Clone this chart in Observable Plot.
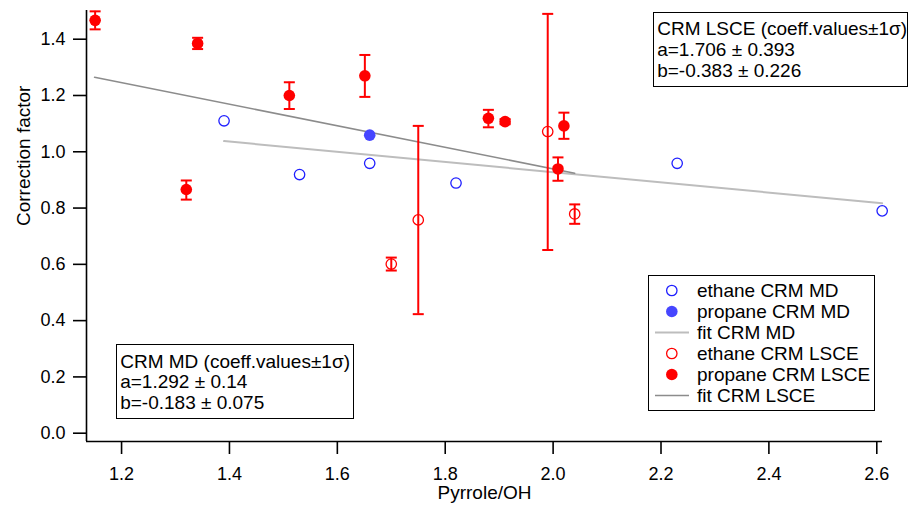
<!DOCTYPE html>
<html>
<head>
<meta charset="utf-8">
<script src="https://cdn.jsdelivr.net/npm/d3@7"></script>
<script src="https://cdn.jsdelivr.net/npm/@observablehq/plot@0.6"></script>
<style>
  body { margin: 0; background: #fff; }
  #wrap { position: relative; width: 909px; height: 507px; }
  .box { position: absolute; background: #fff; border: 1.5px solid #000; box-sizing: border-box;
         font: 19px "Liberation Sans", Arial, sans-serif; color: #000; white-space: nowrap; }
  .row { display: flex; align-items: center; height: 21px; line-height: 21px; }
  .row svg { flex: none; margin-right: 8px; }
</style>
</head>
<body>
<div id="wrap"></div>
<script>
// ---- data ----
const ethaneMD_x = [1.39, 1.53, 1.66, 1.82, 2.23, 2.61];
const ethaneMD_y = [1.110, 0.919, 0.959, 0.889, 0.959, 0.790];

const propaneMD_x = [1.66];
const propaneMD_y = [1.059];

const fitMD_x = [1.39, 2.61];
const fitMD_y = [1.038, 0.817];

const ethaneLSCE_x  = [1.70, 1.75, 1.99, 2.04];
const ethaneLSCE_y  = [0.601, 0.758, 1.072, 0.779];
const ethaneLSCE_lo = [0.578, 0.423, 0.651, 0.744];
const ethaneLSCE_hi = [0.624, 1.092, 1.490, 0.813];

const propaneLSCE_x  = [1.151, 1.32, 1.341, 1.511, 1.651, 1.88, 1.911, 2.009, 2.02];
const propaneLSCE_y  = [1.467, 0.866, 1.385, 1.200, 1.270, 1.119, 1.107, 0.939, 1.092];
const propaneLSCE_lo = [1.435, 0.830, 1.365, 1.152, 1.195, 1.087, 1.098, 0.897, 1.046];
const propaneLSCE_hi = [1.499, 0.898, 1.405, 1.247, 1.344, 1.149, 1.116, 0.980, 1.139];

const fitLSCE_x = [1.15, 2.04];
const fitLSCE_y = [1.265, 0.924];

const xTicks = [1.2, 1.4, 1.6, 1.8, 2.0, 2.2, 2.4, 2.6];
const yTicks = [0.0, 0.2, 0.4, 0.6, 0.8, 1.0, 1.2, 1.4];
const xDomain = [1.135, 2.6106];
const yDomain = [-0.0295, 1.502];

const xLabel = "Pyrrole/OH";
const yLabel = "Correction factor";

const legendItems = [
  {label: "ethane CRM MD", kind: "open", color: "#1f1fff"},
  {label: "propane CRM MD", kind: "filled", color: "#4646ff"},
  {label: "fit CRM MD", kind: "line", color: "#bdbdbd"},
  {label: "ethane CRM LSCE", kind: "open", color: "#ff0000"},
  {label: "propane CRM LSCE", kind: "filled", color: "#ff0000"},
  {label: "fit CRM LSCE", kind: "line", color: "#8c8c8c"}
];
const boxLSCE = ["CRM LSCE (coeff.values\u00b11\u03c3)", "a=1.706 \u00b1 0.393", "b=-0.383 \u00b1 0.226"];
const boxMD = ["CRM MD (coeff.values\u00b11\u03c3)", "a=1.292 \u00b1 0.14", "b=-0.183 \u00b1 0.075"];

// ---- tables ----
const zip = (xs, ys) => xs.map((x, i) => ({x, y: ys[i]}));
const zipErr = (xs, ys, lo, hi) => xs.map((x, i) => ({x, y: ys[i], lo: lo[i], hi: hi[i]}));
const eMD = zip(ethaneMD_x, ethaneMD_y);
const pMD = zip(propaneMD_x, propaneMD_y);
const fMD = zip(fitMD_x, fitMD_y);
const fLS = zip(fitLSCE_x, fitLSCE_y);
const eLS = zipErr(ethaneLSCE_x, ethaneLSCE_y, ethaneLSCE_lo, ethaneLSCE_hi);
const pLS = zipErr(propaneLSCE_x, propaneLSCE_y, propaneLSCE_lo, propaneLSCE_hi);
const allLS = eLS.concat(pLS);

const capSymbol = {
  draw(context, size) {
    const w = Math.sqrt(size / Math.PI);
    context.moveTo(-w, 0);
    context.lineTo(w, 0);
  }
};

const red = "#ff0000";

const chart = Plot.plot({
  width: 909, height: 507,
  marginLeft: 86, marginRight: 27, marginTop: 10, marginBottom: 66,
  style: {fontFamily: '"Liberation Sans", Arial, sans-serif', fontSize: "18px", color: "#000", background: "#fff", overflow: "visible"},
  x: {domain: xDomain},
  y: {domain: yDomain},
  marks: [
    Plot.ruleY([yDomain[0]], {stroke: "#000", strokeWidth: 1.6}),
    Plot.ruleX([xDomain[0]], {stroke: "#000", strokeWidth: 1.6}),
    Plot.axisX({ticks: xTicks, tickSize: 13, tickPadding: 13, tickFormat: d3.format(".1f"), label: null, strokeWidth: 1.6, fontSize: 18}),
    Plot.axisY({ticks: yTicks, tickSize: 13, tickPadding: 8, tickFormat: d3.format(".1f"), label: null, strokeWidth: 1.6, fontSize: 18}),
    Plot.text([xLabel], {frameAnchor: "bottom", dy: 57.9, text: d => d, fontSize: 19}),
    Plot.text([yLabel], {frameAnchor: "left", rotate: -90, dx: -62.6, text: d => d, fontSize: 19}),
    Plot.line(fMD, {x: "x", y: "y", stroke: "#bdbdbd", strokeWidth: 2}),
    Plot.line(fLS, {x: "x", y: "y", stroke: "#8c8c8c", strokeWidth: 1.6}),
    Plot.ruleX(allLS, {x: "x", y1: "lo", y2: "hi", stroke: red, strokeWidth: 2}),
    Plot.dot(allLS, {x: "x", y: "lo", symbol: capSymbol, r: 5.5, stroke: red, strokeWidth: 2, fill: "none"}),
    Plot.dot(allLS, {x: "x", y: "hi", symbol: capSymbol, r: 5.5, stroke: red, strokeWidth: 2, fill: "none"}),
    Plot.dot(eMD, {x: "x", y: "y", r: 5.2, stroke: "#1f1fff", strokeWidth: 1.3, fill: "none"}),
    Plot.dot(pMD, {x: "x", y: "y", r: 5.8, fill: "#4646ff", stroke: "none"}),
    Plot.dot(eLS, {x: "x", y: "y", r: 5.2, stroke: red, strokeWidth: 1.3, fill: "none"}),
    Plot.dot(pLS, {x: "x", y: "y", r: 5.8, fill: red, stroke: "none"})
  ]
});

const wrap = document.getElementById("wrap");
wrap.appendChild(chart);

function textBox(lines, left, top, width, height, padTop, padLeft, lh) {
  const div = document.createElement("div");
  div.className = "box";
  Object.assign(div.style, {left: left + "px", top: top + "px", width: width + "px", height: height + "px",
    paddingTop: padTop + "px", paddingLeft: padLeft + "px", lineHeight: lh + "px"});
  for (const l of lines) {
    const d = document.createElement("div");
    d.textContent = l;
    div.appendChild(d);
  }
  wrap.appendChild(div);
}
textBox(boxLSCE, 652.7, 11.7, 255.5, 75, 5.7, 3.5, 21);
textBox(boxMD, 115.7, 344.3, 238.6, 74.7, 6.4, 3.5, 20.5);

// legend
const leg = document.createElement("div");
leg.className = "box";
Object.assign(leg.style, {left: "647.7px", top: "275px", width: "227.3px", height: "136px", paddingTop: "3.6px", paddingLeft: "6.3px"});
const NS = "http://www.w3.org/2000/svg";
for (const it of legendItems) {
  const row = document.createElement("div");
  row.className = "row";
  const s = document.createElementNS(NS, "svg");
  s.setAttribute("width", 34); s.setAttribute("height", 21);
  let el;
  if (it.kind === "line") {
    el = document.createElementNS(NS, "line");
    el.setAttribute("x1", 0); el.setAttribute("x2", 34); el.setAttribute("y1", 10.5); el.setAttribute("y2", 10.5);
    el.setAttribute("stroke", it.color); el.setAttribute("stroke-width", it.color === "#bdbdbd" ? 2 : 1.6);
  } else {
    el = document.createElementNS(NS, "circle");
    el.setAttribute("cx", 16.8); el.setAttribute("cy", 10.5);
    if (it.kind === "open") { el.setAttribute("r", 5.2); el.setAttribute("fill", "none"); el.setAttribute("stroke", it.color); el.setAttribute("stroke-width", 1.3); }
    else { el.setAttribute("r", 5.8); el.setAttribute("fill", it.color); }
  }
  s.appendChild(el);
  row.appendChild(s);
  const t = document.createElement("span");
  t.textContent = it.label;
  row.appendChild(t);
  leg.appendChild(row);
}
wrap.appendChild(leg);
</script>
</body>
</html>
